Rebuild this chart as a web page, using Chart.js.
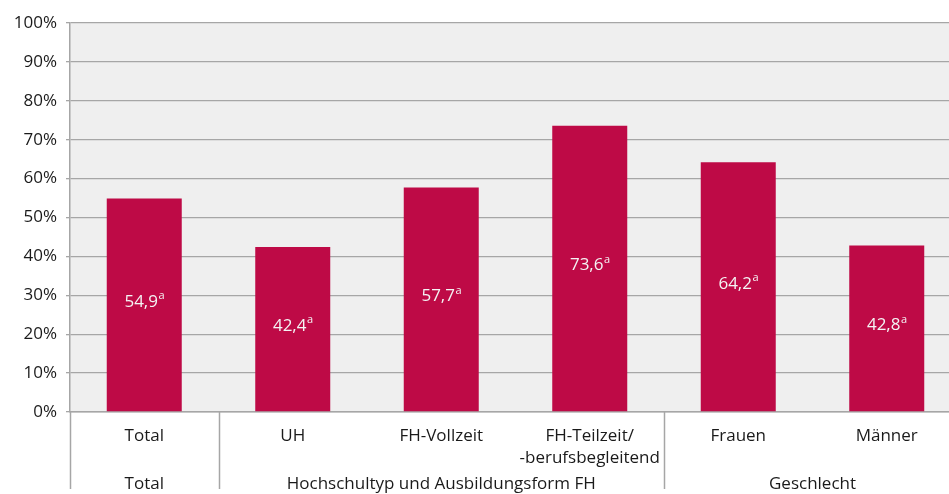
<!DOCTYPE html>
<html><head><meta charset="utf-8">
<script src="https://cdn.jsdelivr.net/npm/chart.js@4"></script>
<style>
html,body{margin:0;padding:0;overflow:hidden;background:#fff;width:949px;height:494px}
#wrap{width:961px;height:494px}
</style></head>
<body><div id="wrap"><canvas id="c" width="961" height="494"></canvas></div>
<script>
const categories = [['Total'], ['UH'], ['FH-Vollzeit'], ['FH-Teilzeit/', '-berufsbegleitend'], ['Frauen'], ['Männer']];
const values = [54.9, 42.4, 57.7, 73.6, 64.2, 42.8];
const valueNotes = ['a', 'a', 'a', 'a', 'a', 'a'];
const groupLabels = ['Total', 'Hochschultyp und Ausbildungsform FH', 'Geschlecht'];
const groupSizes = [1, 3, 2];
const yMin = 0, yMax = 100, yStep = 10;

const FONT = '"Open Sans", sans-serif';
const TEXT = '#1a1a1a';
const LINE = '#a6a6a6';

const decor = {
  id: 'decor',
  beforeDraw(chart) {
    const a = chart.chartArea, ctx = chart.ctx;
    ctx.save();
    ctx.fillStyle = '#efefef';
    ctx.fillRect(a.left, a.top, a.right - a.left, a.bottom - a.top);
    ctx.restore();
  },
  afterDatasetsDraw(chart) {
    const ctx = chart.ctx;
    const meta = chart.getDatasetMeta(0);
    ctx.save();
    meta.data.forEach((bar, i) => {
      const main = values[i].toFixed(1).replace('.', ',');
      const sup = valueNotes[i];
      ctx.font = '17px ' + FONT;
      const w1 = ctx.measureText(main).width;
      ctx.font = '11px ' + FONT;
      const w2 = ctx.measureText(sup).width;
      const x0 = bar.x - (w1 + w2) / 2;
      const yc = (bar.y + bar.base) / 2 - 3;
      ctx.fillStyle = '#f4f4f4';
      ctx.textBaseline = 'middle';
      ctx.textAlign = 'left';
      ctx.font = '17px ' + FONT;
      ctx.fillText(main, x0, yc);
      ctx.font = '11px ' + FONT;
      ctx.fillText(sup, x0 + w1 + 0.5, yc - 6);
    });
    ctx.restore();
  },
  afterDraw(chart) {
    const ctx = chart.ctx, a = chart.chartArea, xs = chart.scales.x;
    const half = (xs.getPixelForValue(1) - xs.getPixelForValue(0)) / 2;
    const lineBottom = 489;
    ctx.save();
    ctx.strokeStyle = LINE;
    ctx.lineWidth = 1.5;
    let start = 0;
    const bounds = [xs.getPixelForValue(0) - half];
    groupSizes.forEach(n => { start += n; bounds.push(xs.getPixelForValue(start - 1) + half); });
    for (let i = 0; i < bounds.length - 1; i++) {
      const x = Math.round(bounds[i]) + 0.5;
      ctx.beginPath();
      ctx.moveTo(x, a.bottom);
      ctx.lineTo(x, lineBottom);
      ctx.stroke();
    }
    ctx.fillStyle = TEXT;
    ctx.font = '17px ' + FONT;
    ctx.textAlign = 'center';
    ctx.textBaseline = 'middle';
    groupLabels.forEach((g, i) => {
      ctx.fillText(g, (bounds[i] + bounds[i + 1]) / 2, 484);
    });
    ctx.restore();
  }
};

new Chart(document.getElementById('c'), {
  type: 'bar',
  data: {
    labels: categories,
    datasets: [{
      data: values,
      backgroundColor: '#BE0A46',
      borderWidth: 0,
      barPercentage: 0.505,
      categoryPercentage: 1
    }]
  },
  options: {
    responsive: false,
    animation: false,
    layout: { padding: { top: 23, right: 0, bottom: 0, left: 0 } },
    plugins: { legend: { display: false }, tooltip: { enabled: false } },
    scales: {
      x: {
        grid: { display: false },
        border: { display: true, color: LINE, width: 1.5 },
        ticks: { color: TEXT, font: { family: FONT, size: 17, lineHeight: 1.3 }, padding: 5, maxRotation: 0, autoSkip: false },
        afterFit(s) { s.height = 82; }
      },
      y: {
        min: yMin, max: yMax,
        grid: { color: LINE, lineWidth: 1.3, tickLength: 4 },
        border: { display: true, color: LINE, width: 1.5 },
        ticks: { stepSize: yStep, color: TEXT, font: { family: FONT, size: 17 }, padding: 9, callback: v => v + '%' },
        afterFit(s) { s.width = 70; }
      }
    }
  },
  plugins: [decor]
});
</script>
</body></html>
